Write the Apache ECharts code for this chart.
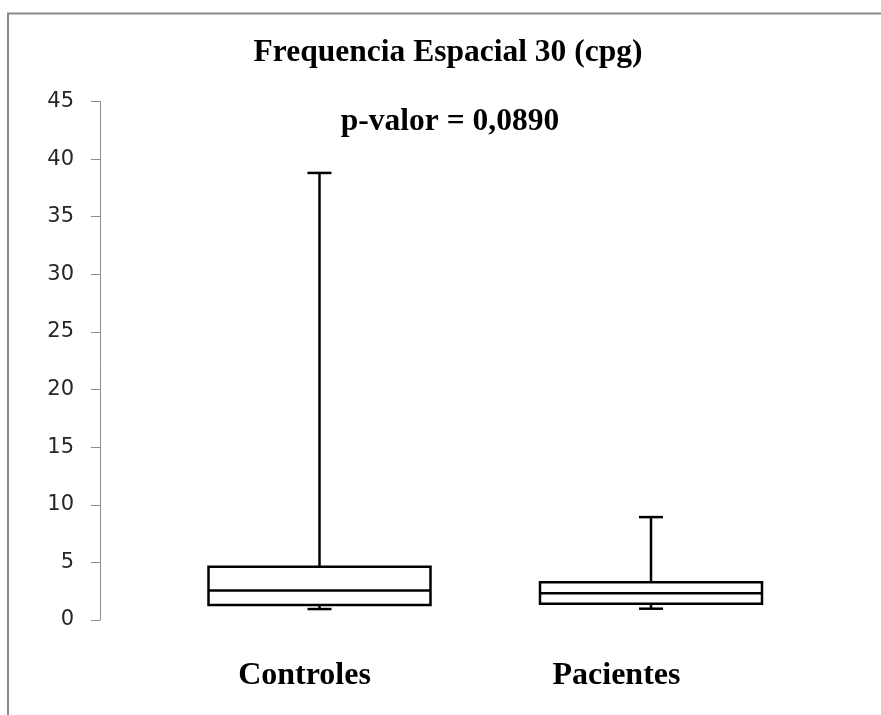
<!DOCTYPE html>
<html>
<head>
<meta charset="utf-8">
<script src="https://cdn.jsdelivr.net/npm/echarts@6/dist/echarts.min.js"></script>
<style>
html,body{margin:0;padding:0;background:#fff;}
#chart{width:881px;height:715px;}
</style>
</head>
<body>
<div id="chart"></div>
<script>
// ---- data ----
const categories = ['Controles', 'Pacientes'];
const whiskerLow = [0.95, 0.98];
const q1Values = [1.3, 1.42];
const medianValues = [2.55, 2.32];
const q3Values = [4.62, 3.28];
const whiskerHigh = [38.8, 8.93];
const yTicks = [0, 5, 10, 15, 20, 25, 30, 35, 40, 45];
const titleText = 'Frequencia Espacial 30 (cpg)';
const pValueText = 'p-valor = 0,0890';

const boxData = categories.map((c, i) => [i, whiskerLow[i], q1Values[i], medianValues[i], q3Values[i], whiskerHigh[i]]);

const chart = echarts.init(document.getElementById('chart'), null, {renderer: 'canvas'});

const lineStyle = {stroke: '#000', lineWidth: 2.5, fill: null};

const option = {
  backgroundColor: '#fff',
  animation: false,
  title: [
    {
      text: titleText,
      left: 448, top: 37, padding: 0,
      textAlign: 'center',
      textStyle: {fontFamily: 'Liberation Serif', fontWeight: 'bold', fontSize: 31.5, color: '#000'}
    },
    {
      text: pValueText,
      left: 450, top: 106, padding: 0,
      textAlign: 'center',
      textStyle: {fontFamily: 'Liberation Serif', fontWeight: 'bold', fontSize: 31.5, color: '#000'}
    }
  ],
  graphic: [
    {
      type: 'polyline',
      shape: {points: [[8, 716], [8, 13.5], [882, 13.5]]},
      style: {stroke: '#8a8a8a', lineWidth: 2, fill: null},
      silent: true
    }
  ],
  grid: [
    {left: 153.75, top: 101.5, width: 663, height: 518.5},
    {left: 148.5, top: 101.5, width: 624, height: 518.5}
  ],
  xAxis: [
    {
      type: 'category', gridIndex: 0, data: categories, boundaryGap: true,
      axisLine: {show: false}, axisTick: {show: false}, axisLabel: {show: false}, splitLine: {show: false}
    },
    {
      type: 'category', gridIndex: 1, data: categories, boundaryGap: true,
      axisLine: {show: false}, axisTick: {show: false}, splitLine: {show: false},
      axisLabel: {
        show: true, margin: 40,
        fontFamily: 'Liberation Serif', fontWeight: 'bold', fontSize: 32, color: '#000'
      }
    }
  ],
  yAxis: [
    {
      type: 'value', gridIndex: 0, min: 0, max: 45, interval: 5,
      offset: 53.75,
      axisLine: {show: true, lineStyle: {color: '#8c8c8c', width: 1}},
      axisTick: {show: true, length: 9, inside: false, lineStyle: {color: '#8c8c8c', width: 1}},
      splitLine: {show: false},
      axisLabel: {
        margin: 26, fontFamily: 'DejaVu Sans', fontSize: 21, color: '#262626',
        formatter: v => (yTicks.indexOf(v) >= 0 ? String(v) : '')
      }
    },
    {
      type: 'value', gridIndex: 1, min: 0, max: 45, show: false
    }
  ],
  series: [
    {
      type: 'custom',
      xAxisIndex: 0, yAxisIndex: 0,
      data: boxData,
      encode: {x: 0, y: [1, 2, 3, 4, 5]},
      renderItem: function (params, api) {
        const x = api.value(0);
        const lo = api.coord([x, api.value(1)]);
        const q1 = api.coord([x, api.value(2)]);
        const med = api.coord([x, api.value(3)]);
        const q3 = api.coord([x, api.value(4)]);
        const hi = api.coord([x, api.value(5)]);
        const cx = lo[0];
        const bw = 222, cw = 24;
        return {
          type: 'group',
          children: [
            {type: 'line', shape: {x1: cx, y1: hi[1], x2: cx, y2: q3[1]}, style: lineStyle},
            {type: 'line', shape: {x1: cx - cw / 2, y1: hi[1], x2: cx + cw / 2, y2: hi[1]}, style: lineStyle},
            {type: 'line', shape: {x1: cx, y1: lo[1], x2: cx, y2: q1[1]}, style: lineStyle},
            {type: 'line', shape: {x1: cx - cw / 2, y1: lo[1], x2: cx + cw / 2, y2: lo[1]}, style: lineStyle},
            {type: 'rect', shape: {x: cx - bw / 2, y: q3[1], width: bw, height: q1[1] - q3[1]},
              style: {stroke: '#000', lineWidth: 2.5, fill: '#fff'}},
            {type: 'line', shape: {x1: cx - bw / 2, y1: med[1], x2: cx + bw / 2, y2: med[1]}, style: lineStyle}
          ]
        };
      }
    }
  ]
};

chart.setOption(option);
</script>
</body>
</html>
